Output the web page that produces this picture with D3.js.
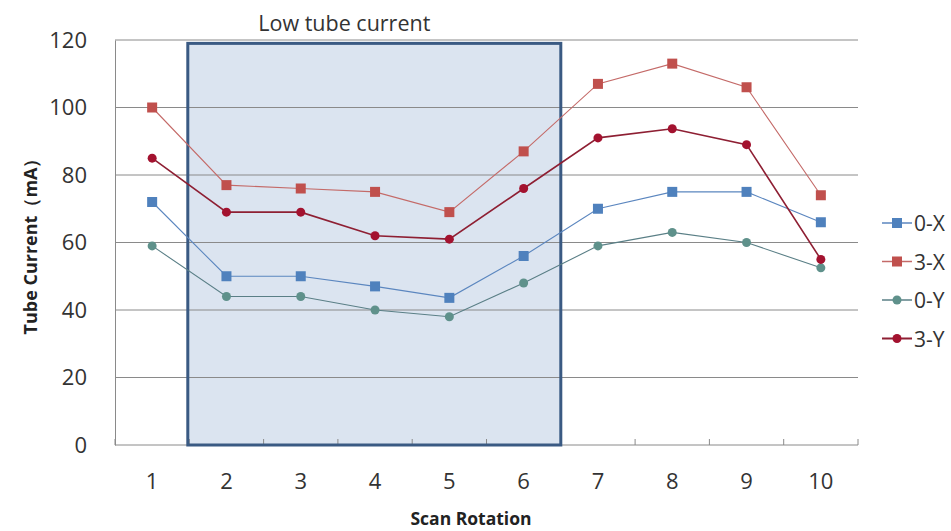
<!DOCTYPE html>
<html>
<head>
<meta charset="utf-8">
<script src="https://cdn.jsdelivr.net/npm/d3@7"></script>
<style>
  html, body { margin: 0; padding: 0; background: #fff; }
  svg { display: block; font-family: "Open Sans", "DejaVu Sans", sans-serif; }
</style>
</head>
<body>
<svg id="chart" width="951" height="531"></svg>
<script>
// Scan rotations on the x axis
const rotations = [1, 2, 3, 4, 5, 6, 7, 8, 9, 10];
// Tube current (mA) per series
const s0X = [72, 50, 50, 47, 43.6, 56, 70, 75, 75, 66];
const s3X = [100, 77, 76, 75, 69, 87, 107, 113, 106, 74];
const s0Y = [59, 44, 44, 40, 38, 48, 59, 63, 60, 52.5];
const s3Y = [85, 69, 69, 62, 61, 76, 91, 93.7, 89, 55];
const seriesNames = ["0-X", "3-X", "0-Y", "3-Y"];
const yTicks = [0, 20, 40, 60, 80, 100, 120];
// Highlighted low-current window (first and last rotation) and its top value
const lowWindow = [2, 6];
const lowWindowTop = 119;
const lowWindowLabel = "Low tube current";

const series = [
  { name: seriesNames[0], values: s0X, color: "#4f81bd", line: "#5b86bf", shape: "square", width: 1.1 },
  { name: seriesNames[1], values: s3X, color: "#c0504d", line: "#c46a68", shape: "square", width: 1.1 },
  { name: seriesNames[2], values: s0Y, color: "#5f918b", line: "#5a7f86", shape: "circle", width: 1.1 },
  { name: seriesNames[3], values: s3Y, color: "#a3122f", line: "#8e1f33", shape: "circle", width: 1.6 }
];

const svg = d3.select("#chart");
const plot = { left: 115, right: 858, top: 40, bottom: 445 };

const x = d3.scaleBand().domain(rotations).range([plot.left, plot.right]);
const y = d3.scaleLinear().domain([0, 120]).range([plot.bottom, plot.top]);
const cx = d => x(d) + x.bandwidth() / 2;

// Shaded window behind the grid
const winX0 = x(lowWindow[0]) - 1.5;
const winX1 = x(lowWindow[1]) + x.bandwidth();
svg.append("rect")
  .attr("x", winX0).attr("y", y(lowWindowTop))
  .attr("width", winX1 - winX0).attr("height", y(0) - y(lowWindowTop))
  .attr("fill", "#dbe4f0");

// Horizontal gridlines
svg.append("g").selectAll("line").data(yTicks.filter(t => t > 0)).join("line")
  .attr("x1", plot.left).attr("x2", plot.right)
  .attr("y1", d => y(d)).attr("y2", d => y(d))
  .attr("stroke", "#8a8a8a").attr("stroke-width", 1);

// Y axis (line only, labels on the left)
const yAxis = svg.append("g").attr("transform", `translate(${plot.left},0)`)
  .call(d3.axisLeft(y).tickValues(yTicks).tickSize(0).tickPadding(28));
yAxis.select(".domain").attr("stroke", "#8a8a8a");
yAxis.selectAll("text").attr("font-size", 22).attr("fill", "#333")
  .attr("font-family", "'Open Sans', sans-serif");

// X axis with inward ticks on category boundaries
const xAxisG = svg.append("g").attr("transform", `translate(0,${plot.bottom})`);
xAxisG.append("line").attr("x1", plot.left).attr("x2", plot.right)
  .attr("stroke", "#8a8a8a");
const bounds = rotations.map(r => x(r)).concat([plot.right]);
xAxisG.selectAll("line.tick").data(bounds).join("line").attr("class", "tick")
  .attr("x1", d => d).attr("x2", d => d).attr("y1", 0).attr("y2", -6)
  .attr("stroke", "#8a8a8a");
xAxisG.selectAll("text").data(rotations).join("text")
  .attr("x", d => cx(d)).attr("y", 44)
  .attr("text-anchor", "middle").attr("font-size", 22).attr("fill", "#333")
  .text(d => d);

// Window outline
svg.append("rect")
  .attr("x", winX0).attr("y", y(lowWindowTop))
  .attr("width", winX1 - winX0).attr("height", y(0) - y(lowWindowTop))
  .attr("fill", "none").attr("stroke", "#3a5a83").attr("stroke-width", 3);

svg.append("text")
  .attr("x", (winX0 + winX1) / 2 - 30).attr("y", 31)
  .attr("text-anchor", "middle").attr("font-size", 21.5).attr("fill", "#333")
  .text(lowWindowLabel);

// Series lines and markers
const line = d3.line().x((d, i) => cx(rotations[i])).y(d => y(d));
function marker(g, shape, color) {
  if (shape === "square") {
    g.append("rect").attr("x", -5).attr("y", -5).attr("width", 10).attr("height", 10)
      .attr("fill", color);
  } else {
    g.append("circle").attr("r", 4.5).attr("fill", color);
  }
}
series.forEach(s => {
  svg.append("path").datum(s.values).attr("d", line)
    .attr("fill", "none").attr("stroke", s.line).attr("stroke-width", s.width);
  s.values.forEach((v, i) => {
    const g = svg.append("g").attr("transform", `translate(${cx(rotations[i])},${y(v)})`);
    marker(g, s.shape, s.color);
  });
});

// Legend
const legend = svg.append("g").attr("transform", "translate(882,223)");
series.forEach((s, i) => {
  const g = legend.append("g").attr("transform", `translate(0,${i * 38.5})`);
  g.append("line").attr("x1", 0).attr("x2", 30).attr("y1", 0).attr("y2", 0)
    .attr("stroke", s.line).attr("stroke-width", s.width + 0.4);
  const m = g.append("g").attr("transform", "translate(15,0)");
  marker(m, s.shape, s.color);
  g.append("text").attr("x", 32).attr("y", 8).attr("font-size", 21).attr("fill", "#333")
    .text(s.name);
});

// Axis titles
svg.append("text")
  .attr("transform", "translate(37,242) rotate(-90)")
  .attr("text-anchor", "middle").attr("font-size", 18).attr("font-weight", "bold")
  .attr("fill", "#222").text("Tube Current（mA）");
svg.append("text")
  .attr("x", 471).attr("y", 525)
  .attr("text-anchor", "middle").attr("font-size", 17.5).attr("font-weight", "bold")
  .attr("fill", "#222").text("Scan Rotation");
</script>
</body>
</html>
